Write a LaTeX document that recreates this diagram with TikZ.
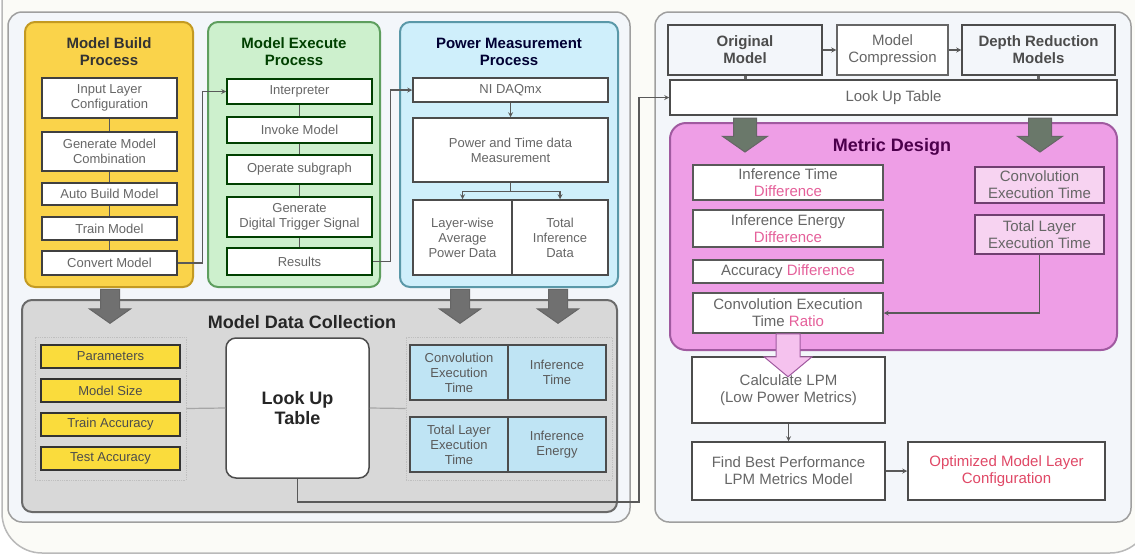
\documentclass[tikz,border=0pt]{standalone}
\usepackage{fontspec}
\setmainfont{Liberation Sans}
\usetikzlibrary{shapes.arrows,positioning}

\definecolor{bgtint}{HTML}{FBFBF7}
\definecolor{paneltint}{HTML}{F3F6FA}
\definecolor{txtgray}{HTML}{666666}
\definecolor{buildfill}{HTML}{FAD34A}
\definecolor{buildedge}{HTML}{C39A22}
\definecolor{execfill}{HTML}{CDF0CD}
\definecolor{execedge}{HTML}{5E9E5E}
\definecolor{pwrfill}{HTML}{CFEFFB}
\definecolor{pwredge}{HTML}{5A98A8}
\definecolor{collfill}{HTML}{D8D8D8}
\definecolor{colledge}{HTML}{6A6A6A}
\definecolor{yelcell}{HTML}{FADC3C}
\definecolor{bluecell}{HTML}{BFE4F4}
\definecolor{metfill}{HTML}{EE9EE6}
\definecolor{metedge}{HTML}{A05AA0}
\definecolor{metcell}{HTML}{F7D3F1}
\definecolor{diff}{HTML}{E5609A}
\definecolor{optred}{HTML}{E04866}
\definecolor{arrowgray}{HTML}{707070}
\definecolor{arrowgreen}{HTML}{6A786A}
\definecolor{pinkarrow}{HTML}{F5C2EE}

\begin{document}
\begin{tikzpicture}[x=1pt, y=-1pt, >=stealth, thick,
  panel/.style={draw=gray!75, line width=1.5pt, rounded corners=14, fill=paneltint},
  proc/.style={line width=2pt, rounded corners=10},
  cell/.style={draw, line width=1.5pt, fill=white, align=center, inner sep=1pt, text=txtgray, font=\fontsize{13}{15}\selectfont},
  rcell/.style={cell, font=\fontsize{15}{17}\selectfont},
  ttl/.style={align=center, font=\fontsize{15}{17}\selectfont\bfseries},
  bigttl/.style={align=center, font=\fontsize{18}{20}\selectfont\bfseries},
  blk/.style={single arrow, shape border rotate=270, inner xsep=9pt, inner ysep=0pt, minimum width=40, single arrow head extend=11, single arrow tip angle=110, minimum height=34, draw=black!60, fill=arrowgray, line width=1pt},
  link/.style={draw=black!65, line width=1.2pt}]

  \useasboundingbox (0,0) rectangle (1135,555);
  \draw[rounded corners=40, draw=gray!55, line width=1.5pt, fill=bgtint] (2,-60) rectangle (1150,553);

  % two panels
  \node[panel, minimum width=622, minimum height=510] (left) at (319,267) {};
  \node[panel, minimum width=476, minimum height=510] (right) at (893,267) {};

  % model build process
  \node[proc, draw=buildedge, fill=buildfill, minimum width=168, minimum height=265] (build) at (109,154.5) {};
  \node[ttl, text=black!80] (buildt) at (109,52) {Model Build\\Process};
  \node[cell, draw=black!75, minimum width=135, minimum height=40] (b1) at (109.5,98) {Input Layer\\Configuration};
  \node[cell, draw=black!75, minimum width=135, minimum height=39] (b2) at (109.5,151.5) {Generate Model\\Combination};
  \node[cell, draw=black!75, minimum width=135, minimum height=22] (b3) at (109.5,194) {Auto Build Model};
  \node[cell, draw=black!75, minimum width=135, minimum height=23] (b4) at (109.5,228.5) {Train Model};
  \node[cell, draw=black!75, minimum width=135, minimum height=24] (b5) at (109.5,263) {Convert Model};

  % model execute process
  \node[proc, draw=execedge, fill=execfill, minimum width=172, minimum height=265] (exec) at (294,154.5) {};
  \node[ttl, text=green!25!black] (exect) at (294,52) {Model Execute\\Process};
  \node[cell, draw=green!25!black, minimum width=145, minimum height=25] (e1) at (299.5,91.5) {Interpreter};
  \node[cell, draw=green!25!black, minimum width=145, minimum height=26] (e2) at (299.5,130) {Invoke Model};
  \node[cell, draw=green!25!black, minimum width=145, minimum height=29] (e3) at (299.5,169.5) {Operate subgraph};
  \node[cell, draw=green!25!black, minimum width=145, minimum height=40] (e4) at (299.5,217) {Generate\\Digital Trigger Signal};
  \node[cell, draw=green!25!black, minimum width=145, minimum height=27] (e5) at (299.5,261.5) {Results};

  % power measurement process
  \node[proc, draw=pwredge, fill=pwrfill, minimum width=218, minimum height=265] (pwr) at (509,154.5) {};
  \node[ttl, text=blue!20!black] (pwrt) at (509,52) {Power Measurement\\Process};
  \node[cell, draw=black!70, minimum width=195, minimum height=24] (p1) at (510.5,90) {NI DAQmx};
  \node[cell, draw=black!70, minimum width=195, minimum height=64] (p2) at (510.5,150) {Power and Time data\\Measurement};
  \node[cell, draw=black!70, minimum width=99, minimum height=75] (p3) at (462.5,237.5) {Layer-wise\\Average\\Power Data};
  \node[cell, draw=black!70, minimum width=96, minimum height=75] (p4) at (560,237.5) {Total\\Inference\\Data};

  \draw[link] (b1) -- (b2); \draw[link] (b2) -- (b3); \draw[link] (b3) -- (b4); \draw[link] (b4) -- (b5);
  \draw[link] (e1) -- (e2); \draw[link] (e2) -- (e3); \draw[link] (e3) -- (e4); \draw[link] (e4) -- (e5);
  \draw[link,->] (p1) -- (p2);
  \draw[link,->] (p2.south) -- ++(0,9) -| (p3.north);
  \draw[link,->] (p2.south) -- ++(0,9) -| (p4.north);
  \draw[link,->] (b5.east) -- ++(25,0) |- (e1.west);
  \draw[link,->] (e5.east) -- ++(18,0) |- (p1.west);

  % model data collection
  \node[proc, draw=colledge, fill=collfill, minimum width=595, minimum height=212] (coll) at (319.5,406) {};
  \node[bigttl, text=black!85] (collt) at (302,322) {Model Data Collection};
  \node[draw=gray!50, densely dotted, minimum width=151, minimum height=143] (ygrp) at (110.5,408.5) {};
  \node[cell, draw=black!80, fill=yelcell, text=black!70, minimum width=139, minimum height=23] (d1) at (110.5,356.5) {Parameters};
  \node[cell, draw=black!80, fill=yelcell, text=black!70, minimum width=139, minimum height=23] (d2) at (110.5,390.5) {Model Size};
  \node[cell, draw=black!80, fill=yelcell, text=black!70, minimum width=139, minimum height=23] (d3) at (110.5,424.5) {Train Accuracy};
  \node[cell, draw=black!80, fill=yelcell, text=black!70, minimum width=139, minimum height=23] (d4) at (110.5,458.5) {Test Accuracy};
  \node[draw=black!70, line width=1.5pt, rounded corners=10, fill=white, bigttl, text=black!85, minimum width=143, minimum height=140] (lut) at (297.5,408) {Look Up\\Table};
  \node[draw=gray!50, densely dotted, minimum width=206, minimum height=143] (bgrp) at (509,408.5) {};
  \node[cell, draw=black!70, fill=bluecell, text=black!65, minimum width=98, minimum height=55] (c1) at (459,372.5) {Convolution\\Execution\\Time};
  \node[cell, draw=black!70, fill=bluecell, text=black!65, minimum width=98, minimum height=55] (c2) at (557,372.5) {Inference\\Time};
  \node[cell, draw=black!70, fill=bluecell, text=black!65, minimum width=98, minimum height=55] (c3) at (459,444.5) {Total Layer\\Execution\\Time};
  \node[cell, draw=black!70, fill=bluecell, text=black!65, minimum width=98, minimum height=55] (c4) at (557,444.5) {Inference\\Energy};
  \draw[link, draw=gray!70] (ygrp.east) -- (lut.west);
  \draw[link, draw=gray!70] (lut.east) -- (bgrp.west);

  % block arrows into data collection
  \node[blk] (ga1) at (110,303) {};
  \node[blk] (ga2) at (460,303) {};
  \node[blk] (ga3) at (558,303) {};

  % model side
  \node[cell, draw=black!70, fill=paneltint, text=black!70, font=\fontsize{15}{17}\selectfont\bfseries, minimum width=154, minimum height=50] (om) at (745,50) {Original\\Model};
  \node[rcell, draw=black!60, minimum width=111, minimum height=50] (mc) at (892.5,50) {Model\\Compression};
  \node[cell, draw=black!70, fill=paneltint, text=black!70, font=\fontsize{15}{17}\selectfont\bfseries, minimum width=153, minimum height=50] (dr) at (1038.5,50) {Depth Reduction\\Models};
  \node[rcell, draw=black!70, minimum width=447, minimum height=35] (rlut) at (893.5,97.5) {Look Up Table};
  \draw[link,->] (om) -- (mc);
  \draw[link,->] (mc) -- (dr);
  \draw[line width=3pt, black!60] (om.south) -- (om.south |- rlut.north);
  \draw[line width=3pt, black!60] (dr.south) -- (dr.south |- rlut.north);

  \coordinate (bend) at (639,502);
  \draw[link,->] (lut.south) |- (bend) |- (rlut.west);

  % metric design
  \node[proc, rounded corners=16, draw=metedge, fill=metfill, minimum width=447, minimum height=227] (met) at (893.5,236.5) {};
  \node[bigttl, text=violet!60!black] (mett) at (892,147) {Metric Design};
  \node[rcell, draw=black!65, minimum width=190, minimum height=35] (m1) at (788,182.5) {Inference Time\\\textcolor{diff}{Difference}};
  \node[rcell, draw=black!65, minimum width=190, minimum height=37] (m2) at (788,228.5) {Inference Energy\\\textcolor{diff}{Difference}};
  \node[rcell, draw=black!65, minimum width=190, minimum height=23] (m3) at (788,271.5) {Accuracy \textcolor{diff}{Difference}};
  \node[rcell, draw=black!65, minimum width=190, minimum height=40] (m4) at (788,313) {Convolution Execution\\Time \textcolor{diff}{Ratio}};
  \node[rcell, draw=metedge!70!black, fill=metcell, minimum width=129, minimum height=36] (m5) at (1039.5,185) {Convolution\\Execution Time};
  \node[rcell, draw=metedge!70!black, fill=metcell, minimum width=129, minimum height=39] (m6) at (1039.5,234.5) {Total Layer\\Execution Time};
  \draw[link,->] (m6.south) |- (m4.east);

  \node[blk, fill=arrowgreen, minimum height=34, inner xsep=11pt] (ga4) at (745,131) {};
  \node[blk, fill=arrowgreen, minimum height=34, inner xsep=11pt] (ga5) at (1040,131) {};

  % lpm
  \node[rcell, draw=black!70, minimum width=193, minimum height=66] (lpm) at (788.5,390) {Calculate LPM\\(Low Power Metrics)};
  \node[rcell, draw=black!70, minimum width=193, minimum height=58] (best) at (788.5,471) {Find Best Performance\\LPM Metrics Model};
  \node[rcell, draw=black!70, text=optred, minimum width=197, minimum height=58] (opt) at (1006.5,471) {Optimized Model Layer\\Configuration};
  \draw[link,->] (lpm) -- (best);
  \draw[link,->] (best) -- (opt);
  % pink block arrow from the ratio box down into lpm
  \draw[fill=pinkarrow, draw=metedge, line width=1pt] (m4.south) ++(-12,0) -- ++(0,23) -- ++(-12,0) -- ++(24,20) -- ++(24,-20) -- ++(-12,0) -- ++(0,-23) -- cycle;

\end{tikzpicture}
\end{document}
